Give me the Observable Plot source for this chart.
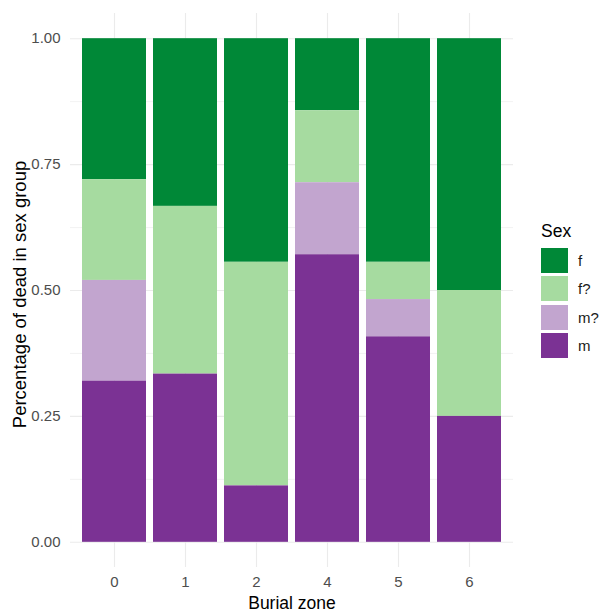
<!DOCTYPE html>
<html><head><meta charset="utf-8">
<script src="https://cdn.jsdelivr.net/npm/d3@7"></script>
<script src="https://cdn.jsdelivr.net/npm/@observablehq/plot@0.6"></script>
<style>
body{margin:0;background:#fff;}
#chart{position:relative;width:603px;height:613px;font-family:"Liberation Sans",Arial,sans-serif;}
#legend{position:absolute;left:541px;top:221px;width:62px;height:150px;}
.ltitle{position:absolute;left:0;top:0;font-size:17.5px;line-height:20px;color:#000;}
.lkey{position:absolute;left:0;width:27px;height:25px;}
.llab{position:absolute;left:37px;font-size:15px;line-height:25px;color:#1a1a1a;}
</style></head><body><div id="chart"></div>
<script>
// Data (proportions)
const zones = ["0", "1", "2", "4", "5", "6"];
const sexes = ["f", "f?", "m?", "m"];            // legend order (top of stack first)
const stackOrder = ["m", "m?", "f?", "f"];        // bottom to top
const colors = ["#008837", "#a6dba0", "#c2a5cf", "#7b3294"];
const fShare  = [0.28, 0.333, 0.444, 0.143, 0.444, 0.50];
const fqShare = [0.20, 0.333, 0.444, 0.143, 0.074, 0.25];
const mqShare = [0.20, 0.0,   0.0,   0.143, 0.074, 0.0];
const mShare  = [0.32, 0.334, 0.112, 0.571, 0.408, 0.25];
const majorTicks = [0, 0.25, 0.5, 0.75, 1];
const minorTicks = [0.125, 0.375, 0.625, 0.875];
const xTitle = "Burial zone";
const yTitle = "Percentage of dead in sex group";
const legendTitle = "Sex";

const seriesBySex = {"f": fShare, "f?": fqShare, "m?": mqShare, "m": mShare};
const data = [];
zones.forEach((z, i) => sexes.forEach(s => data.push({zone: z, sex: s, share: seriesBySex[s][i]})));

const font = '"Liberation Sans", Arial, sans-serif';
const chart = Plot.plot({
  width: 603, height: 613,
  marginLeft: 70, marginRight: 90, marginTop: 13, marginBottom: 46,
  style: {fontFamily: font, fontSize: "15px", background: "white", color: "black"},
  x: {domain: zones, paddingInner: 0.1, paddingOuter: 0.15, align: 0.5, axis: null, label: null},
  y: {domain: [-0.05, 1.05], axis: null, label: null},
  color: {domain: sexes, range: colors},
  marks: [
    Plot.gridY(minorTicks, {stroke: "#ebebeb", strokeOpacity: 1, strokeWidth: 0.6}),
    Plot.gridY(majorTicks, {stroke: "#ebebeb", strokeOpacity: 1, strokeWidth: 1.1}),
    Plot.gridX(zones, {stroke: "#ebebeb", strokeOpacity: 1, strokeWidth: 1.1}),
    Plot.barY(data, Plot.stackY({x: "zone", y: "share", fill: "sex", order: stackOrder})),
    Plot.axisY(majorTicks, {tickSize: 0, tickPadding: 10, tickFormat: d3.format(".2f"), color: "#4d4d4d", fontSize: 15, label: null}),
    Plot.axisX({tickSize: 0, tickPadding: 9, color: "#4d4d4d", fontSize: 15, label: null}),
    Plot.text([xTitle], {text: d => d, frameAnchor: "bottom", textAnchor: "middle", lineAnchor: "middle", dy: 36, fontSize: 17.5, fill: "black"}),
    Plot.text([yTitle], {text: d => d, frameAnchor: "left", textAnchor: "middle", lineAnchor: "middle", rotate: -90, dx: -50, dy: 4, fontSize: 18.5, fill: "black"})
  ]
});
const root = document.getElementById("chart");
root.appendChild(chart);

const legend = document.createElement("div");
legend.id = "legend";
const t = document.createElement("div");
t.className = "ltitle"; t.textContent = legendTitle;
legend.appendChild(t);
sexes.forEach((s, i) => {
  const top = 27 + i * 28.3;
  const k = document.createElement("div");
  k.className = "lkey"; k.style.top = top + "px"; k.style.background = colors[i];
  legend.appendChild(k);
  const l = document.createElement("div");
  l.className = "llab"; l.style.top = top + "px"; l.textContent = s;
  legend.appendChild(l);
});
root.appendChild(legend);
</script></body></html>
